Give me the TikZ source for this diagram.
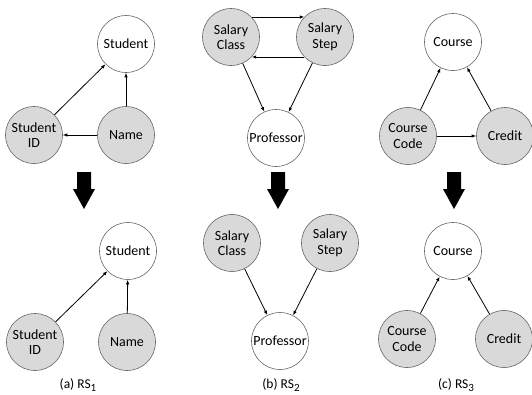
\documentclass[tikz,border=0pt]{standalone}
\usepackage{fontspec}
\setmainfont{Carlito}
\usetikzlibrary{arrows.meta}
\newcommand{\rsidx}[1]{\raisebox{-0.35ex}{\fontsize{11}{11}\selectfont #1}}

\begin{document}
\begin{tikzpicture}[
    x=1pt, y=-1pt,
    attr/.style={circle, draw=black!60, line width=0.6pt, fill=black!15,
                 minimum size=57pt, inner sep=0pt, align=center,
                 font=\fontsize{14}{15.5}\selectfont},
    ent/.style={attr, fill=white},
    dep/.style={black, line width=0.8pt, -{Latex[length=4.5pt, width=3.5pt]}},
    capt/.style={font=\fontsize{13.5}{15}\selectfont}
]
\useasboundingbox (0,0) rectangle (532,394);

% ---------- (a) before ----------
\node[ent]  (stuT)  at (126,44)  {Student};
\node[attr] (sidT)  at (34,135)  {Student\\ID};
\node[attr] (nameT) at (126,135) {Name};
\draw[dep] (sidT)  -- (stuT);
\draw[dep] (nameT) -- (stuT);
\draw[dep] (nameT) -- (sidT);

% ---------- (b) before ----------
\node[attr] (clsT)  at (231,37)  {Salary\\Class};
\node[attr] (stpT)  at (325,37)  {Salary\\Step};
\node[ent]  (profT) at (276,138) {Professor};
\draw[dep] (clsT.44)   -- (stpT.136);
\draw[dep] (stpT.-136) -- (clsT.-44);
\draw[dep] (clsT) -- (profT);
\draw[dep] (stpT) -- (profT);

% ---------- (c) before ----------
\node[ent]  (crsT)  at (453,42)  {Course};
\node[attr] (codeT) at (408,136) {Course\\Code};
\node[attr] (credT) at (505,136) {Credit};
\draw[dep] (codeT) -- (crsT);
\draw[dep] (credT) -- (crsT);
\draw[dep] (codeT) -- (credT);

% ---------- fat arrows ----------
\foreach \ax in {84,278,454}
  \fill[black] ({\ax-7},172) -- ({\ax+7},172) -- ({\ax+7},189) -- ({\ax+11},189)
    -- (\ax,209) -- ({\ax-11},189) -- ({\ax-7},189) -- cycle;

% ---------- (a) after ----------
\node[ent]  (stuB)  at (128,251) {Student};
\node[attr] (sidB)  at (35,342)  {Student\\ID};
\node[attr] (nameB) at (127,342) {Name};
\draw[dep] (sidB)  -- (stuB);
\draw[dep] (nameB) -- (stuB);

% ---------- (b) after ----------
\node[attr] (clsB)  at (232,243) {Salary\\Class};
\node[attr] (stpB)  at (330,243) {Salary\\Step};
\node[ent]  (profB) at (280,341) {Professor};
\draw[dep] (clsB) -- (profB);
\draw[dep] (stpB) -- (profB);

% ---------- (c) after ----------
\node[ent]  (crsB)  at (453,251) {Course};
\node[attr] (codeB) at (407,339) {Course\\Code};
\node[attr] (credB) at (504,339) {Credit};
\draw[dep] (codeB) -- (crsB);
\draw[dep] (credB) -- (crsB);

% ---------- captions ----------
\node[capt] (capA) at (78,385)  {(a) RS\rsidx{1}};
\node[capt] (capB) at (281,385) {(b) RS\rsidx{2}};
\node[capt] (capC) at (456,385) {(c) RS\rsidx{3}};

\end{tikzpicture}
\end{document}
